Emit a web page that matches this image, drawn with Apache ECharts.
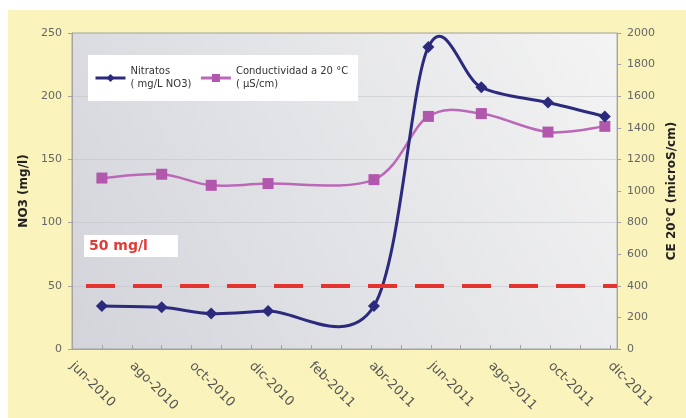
<!DOCTYPE html>
<html>
<head>
<meta charset="UTF-8">
<title>Nitratos y conductividad</title>
<style>
  html, body { margin: 0; padding: 0; background: #fff; }
  #main {
    width: 686px; height: 418px; box-sizing: border-box;
    border-top: 10px solid #fff; border-left: 8px solid #fff;
    background: #FAF3BB;
  }
</style>
</head>
<body>
<div id="main"></div>
<script src="https://cdn.jsdelivr.net/npm/echarts@6/dist/echarts.min.js"></script>
<script>
// fechas de muestreo
var fechas = ['2010-07-01', '2010-09-01', '2010-10-21', '2010-12-18', '2011-04-04',
              '2011-05-29', '2011-07-22', '2011-09-29', '2011-11-26'];
// nitratos (mg/L NO3)
var nitratos = [34, 33, 28, 30, 34, 239, 207, 195, 184];
// conductividad a 20 °C (µS/cm)
var conductividad = [1082, 1106, 1036, 1047, 1072, 1472, 1490, 1373, 1409];
// etiquetas del eje x (cada 2 meses desde jun-2010)
var etiquetasX = ['jun-2010', 'ago-2010', 'oct-2010', 'dic-2010', 'feb-2011',
                  'abr-2011', 'jun-2011', 'ago-2011', 'oct-2011', 'dic-2011'];
var limite = 50;

var nomNitratos = 'Nitratos\n( mg/L NO3)';
var nomCond = 'Conductividad a 20 °C\n( µS/cm)';
var colNitratos = '#2C2A7D';
var colCond = '#BC68B8';

// meses transcurridos desde 1-jun-2010
function meses(f) {
  var p = f.split('-');
  return (parseInt(p[0]) - 2010) * 12 + (parseInt(p[1]) - 6) + (parseInt(p[2]) - 1) / 30.5;
}

var serieNitratos = [], serieCond = [];
for (var i = 0; i < fechas.length; i++) {
  serieNitratos.push([meses(fechas[i]), nitratos[i]]);
  serieCond.push([meses(fechas[i]), conductividad[i]]);
}

// curva suavizada tipo Excel (Catmull-Rom en pixeles), un tramo por punto
function curva(datos, color, ancho, eje) {
  return {
    type: 'custom',
    yAxisIndex: eje,
    silent: true,
    z: eje === 0 ? 3 : 2,
    data: datos,
    renderItem: function (params, api) {
      var i = params.dataIndex;
      if (i >= datos.length - 1) return null;
      var p = function (k) {
        k = Math.max(0, Math.min(datos.length - 1, k));
        return api.coord(datos[k]);
      };
      var p0 = p(i - 1), p1 = p(i), p2 = p(i + 1), p3 = p(i + 2);
      return {
        type: 'bezierCurve',
        shape: {
          x1: p1[0], y1: p1[1], x2: p2[0], y2: p2[1],
          cpx1: p1[0] + (p2[0] - p0[0]) / 6, cpy1: p1[1] + (p2[1] - p0[1]) / 6,
          cpx2: p2[0] - (p3[0] - p1[0]) / 6, cpy2: p2[1] - (p3[1] - p1[1]) / 6
        },
        style: { stroke: color, lineWidth: ancho, fill: null }
      };
    }
  };
}

var myChart = echarts.init(document.getElementById('main'));

var option = {
  backgroundColor: 'transparent',
  animation: false,
  textStyle: { fontFamily: 'DejaVu Sans' },
  grid: {
    left: 64, top: 23, right: 67, bottom: 69,
    show: true,
    borderColor: '#A3A3A3',
    borderWidth: 1,
    backgroundColor: new echarts.graphic.LinearGradient(0, 1, 1, 0, [
      { offset: 0, color: '#D2D4DA' },
      { offset: 1, color: '#F4F4F4' }
    ])
  },
  legend: {
    left: 80, top: 45,
    backgroundColor: '#fff',
    padding: [10, 10, 10, 6],
    itemWidth: 30, itemHeight: 10,
    itemGap: 8,
    textStyle: { fontSize: 10, color: '#333', lineHeight: 13 },
    data: [
      { name: nomNitratos, lineStyle: { opacity: 1, width: 3, color: colNitratos } },
      { name: nomCond, lineStyle: { opacity: 1, width: 3, color: colCond } }
    ]
  },
  graphic: [{
    type: 'text',
    left: 76, top: 225,
    style: {
      text: '50 mg/l',
      fill: '#E23B36',
      font: 'bold 14px DejaVu Sans',
      backgroundColor: '#fff',
      padding: [4, 30, 4, 5]
    }
  }],
  xAxis: {
    type: 'value',
    min: 0, max: 18.23, interval: 1,
    axisLine: { lineStyle: { color: '#A3A3A3' } },
    axisTick: { inside: true, length: 4, lineStyle: { color: '#A3A3A3' } },
    splitLine: { show: false },
    axisLabel: {
      rotate: -45,
      margin: 15,
      fontSize: 13,
      color: '#555',
      formatter: function (v) {
        if (Math.abs(v - Math.round(v)) > 1e-6 || v % 2 !== 0) return '';
        return etiquetasX[v / 2] || '';
      }
    }
  },
  yAxis: [{
    type: 'value',
    min: 0, max: 250, interval: 50,
    name: 'NO3 (mg/l)',
    nameLocation: 'middle',
    nameRotate: 90,
    nameGap: 34,
    nameTextStyle: { fontWeight: 'bold', fontSize: 12, color: '#222' },
    axisLine: { show: true, lineStyle: { color: '#A3A3A3' } },
    axisTick: { show: true, length: 4, lineStyle: { color: '#A3A3A3' } },
    axisLabel: { fontSize: 11, color: '#666', margin: 10, formatter: function (v) { return String(v); } },
    splitLine: { lineStyle: { color: 'rgba(190,192,198,0.5)' } }
  }, {
    type: 'value',
    min: 0, max: 2000, interval: 200,
    position: 'right',
    name: 'CE 20°C (microS/cm)',
    nameLocation: 'middle',
    nameRotate: 90,
    nameGap: 45,
    nameTextStyle: { fontWeight: 'bold', fontSize: 12, color: '#222' },
    axisLine: { show: true, lineStyle: { color: '#A3A3A3' } },
    axisTick: { show: true, length: 4, lineStyle: { color: '#A3A3A3' } },
    axisLabel: { fontSize: 11, color: '#666', margin: 10, formatter: function (v) { return String(v); } },
    splitLine: { show: false }
  }],
  series: [{
    name: nomNitratos,
    type: 'line',
    yAxisIndex: 0,
    symbol: 'diamond',
    symbolSize: 12,
    z: 5,
    itemStyle: { color: colNitratos },
    lineStyle: { width: 3, color: colNitratos, opacity: 0 },
    data: serieNitratos,
    markLine: {
      silent: true,
      symbol: 'none',
      label: { show: false },
      lineStyle: { color: '#E5332F', width: 4, type: [29, 18], dashOffset: 33, opacity: 1 },
      data: [{ yAxis: limite }]
    }
  }, {
    name: nomCond,
    type: 'line',
    yAxisIndex: 1,
    symbol: 'rect',
    symbolSize: 11,
    z: 4,
    itemStyle: { color: '#B158AC' },
    lineStyle: { width: 2.5, color: colCond, opacity: 0 },
    data: serieCond
  },
  curva(serieNitratos, colNitratos, 3, 0),
  curva(serieCond, colCond, 2.5, 1)]
};

myChart.setOption(option);
</script>
</body>
</html>
